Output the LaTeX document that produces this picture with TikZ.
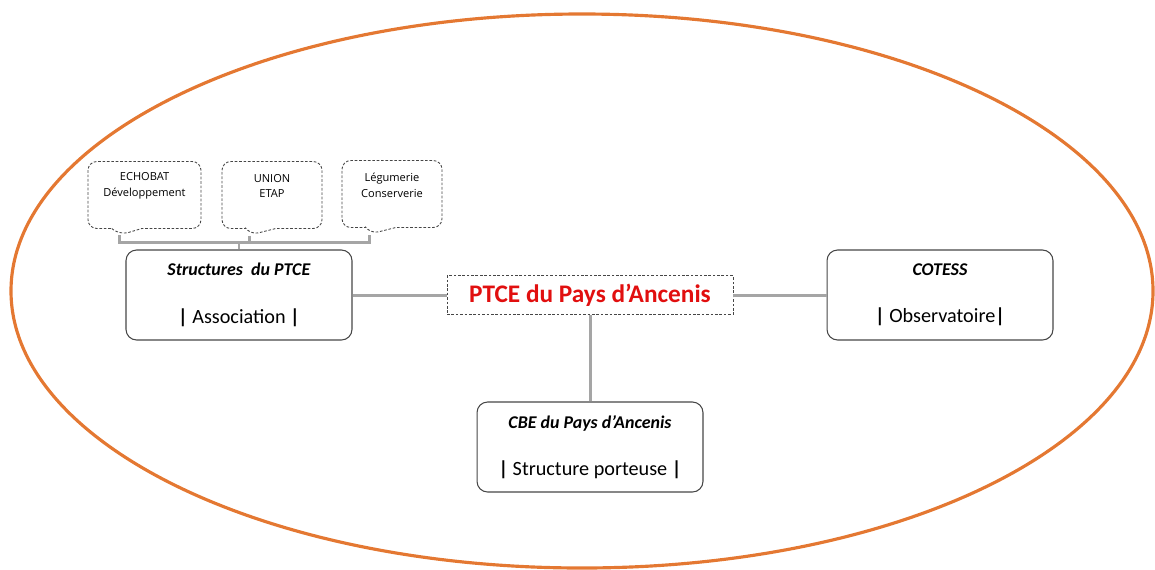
\documentclass[tikz,border=0pt]{standalone}
\usepackage{fontspec}
\setmainfont{Carlito}
\newfontfamily\callfont{Open Sans}
\usepackage{xcolor}
\usetikzlibrary{shapes.callouts,positioning}

\definecolor{ringorange}{RGB}{228,120,50}
\definecolor{linkgray}{RGB}{165,165,165}
\definecolor{boxgray}{RGB}{70,70,70}
\definecolor{titlered}{RGB}{225,15,15}

\newcommand{\bbar}{\textbf{|}}
\newcommand{\subline}{\fontsize{11.5}{13}\selectfont}

\begin{document}
\begin{tikzpicture}[x=0.02cm, y=-0.02cm,
  link/.style={draw=linkgray, line width=1.7pt},
  member/.style={rectangle, rounded corners=6pt, draw=boxgray, line width=0.6pt,
    minimum width=4.52cm, minimum height=1.8cm, align=center, font=\fontsize{10.2}{12}\selectfont},
  callbox/.style={rectangle callout, rounded corners=5pt, draw=boxgray, dashed,
    dash pattern=on 1.5pt off 1pt, line width=0.5pt, minimum height=1.34cm,
    callout pointer width=0.6cm},
  calltext/.style={align=center, font=\callfont\fontsize{6.3}{9}\selectfont, inner sep=0pt}]
  \useasboundingbox (0,0) rectangle (1155,569);

  % outer ring
  \draw[ringorange, line width=1.8pt] (582,291) ellipse [x radius=571, y radius=277];

  % main nodes
  \node[draw=boxgray, dashed, dash pattern=on 1.5pt off 1pt, line width=0.5pt,
    minimum width=5.72cm, minimum height=0.78cm, inner sep=0pt,
    font=\fontsize{14.4}{16}\selectfont\bfseries, text=titlered] (ptce) at (590,295) {PTCE du Pays d’Ancenis};
  \node[member] (structures) at (239,295)
    {\textbf{\textit{Structures\ \ du PTCE}}\\[15pt]{\subline\bbar\ Association \bbar}};
  \node[member] (cotess) at (940,295)
    {\textbf{\textit{COTESS}}\\[15pt]{\subline\bbar\ Observatoire\bbar}};
  \node[member] (cbe) at (590,447)
    {\textbf{\textit{CBE du\ Pays d’Ancenis}}\\[15pt]{\subline\bbar\ Structure porteuse \bbar}};

  % members of the association
  \node[callbox, minimum width=2.26cm, callout absolute pointer={(120,235)}] (echobatbox) at (144.5,195) {};
  \node[callbox, minimum width=2.0cm, callout absolute pointer={(250,235)}] (unionbox) at (272,195) {};
  \node[callbox, minimum width=2.0cm, callout absolute pointer={(370,234)}] (legumbox) at (392,194) {};
  \node[calltext] (echobat) at (144.5,186) {ECHOBAT\\Développement};
  \node[calltext] (union) at (272,186) {UNION\\ETAP};
  \node[calltext] (legum) at (392,185) {Légumerie\\Conserverie};

  % connectors
  \coordinate (bar) at (0,242);
  \draw[link] (echobatbox.pointer) -- (echobatbox.pointer |- bar) -- (legumbox.pointer |- bar) -- (legumbox.pointer);
  \draw[link] (unionbox.pointer) -- (unionbox.pointer |- bar);
  \draw[link] (structures.north) -- (structures.north |- bar);
  \draw[link] (structures) -- (ptce);
  \draw[link] (ptce) -- (cotess);
  \draw[link] (ptce) -- (cbe);
\end{tikzpicture}
\end{document}
